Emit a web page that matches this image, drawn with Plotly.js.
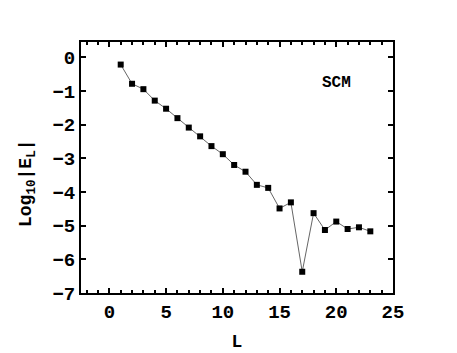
<!DOCTYPE html>
<html>
<head>
<meta charset="utf-8">
<script src="https://cdn.plot.ly/plotly-3.0.1.min.js"></script>
<style>
  html, body { margin: 0; padding: 0; background: #fff; }
  #chart { width: 457px; height: 353px; }
</style>
</head>
<body>
<div id="chart"></div>
<script>
// Values
const L = [1, 2, 3, 4, 5, 6, 7, 8, 9, 10, 11, 12, 13, 14, 15, 16, 17, 18, 19, 20, 21, 22, 23];
const logE = [-0.22, -0.79, -0.95, -1.29, -1.53, -1.81, -2.09, -2.35, -2.64, -2.88, -3.20, -3.40,
              -3.79, -3.88, -4.49, -4.31, -6.37, -4.63, -5.13, -4.88, -5.10, -5.05, -5.17];

const font = { family: '"Liberation Mono", "Courier New", monospace', color: '#000' };

function renderChart() {
  const data = [
    {
      type: 'scatter',
      mode: 'lines+markers',
      x: L,
      y: logE,
      line: { color: '#666', width: 1 },
      marker: { symbol: 'square', size: 6, color: '#000' },
      hoverinfo: 'skip',
    },
  ];

  const axisCommon = {
    showline: true,
    linewidth: 2,
    linecolor: '#000',
    mirror: 'allticks',
    ticks: 'inside',
    tickwidth: 2,
    tickcolor: '#000',
    showgrid: false,
    zeroline: false,
    tickfont: Object.assign({ size: 19, weight: 'bold' }, font),
  };

  const layout = {
    width: 457,
    height: 353,
    margin: { l: 81, r: 64, t: 42, b: 60 },
    paper_bgcolor: '#fff',
    plot_bgcolor: '#fff',
    showlegend: false,
    font: font,
    xaxis: Object.assign({}, axisCommon, {
      range: [-2.5, 25],
      tickvals: [0, 5, 10, 15, 20, 25],
      ticklen: 5,
      minor: { dtick: 1, tick0: 0, ticks: 'inside', ticklen: 3, tickwidth: 2, tickcolor: '#000' },
      title: { text: 'L', font: Object.assign({ size: 18, weight: 'bold' }, font), standoff: 12 },
    }),
    yaxis: Object.assign({}, axisCommon, {
      range: [-7, 0.45],
      tickvals: [0, -1, -2, -3, -4, -5, -6, -7],
      ticklen: 5,
    }),
    annotations: [
      {
        x: 20, y: -0.77, xref: 'x', yref: 'y',
        text: 'SCM', showarrow: false,
        font: Object.assign({ size: 16, weight: 'bold' }, font),
      },
      {
        // y axis title, placed a little below centre like the reference
        x: 27, y: 170, xref: 'paper', yref: 'paper',
        xanchor: 'center', yanchor: 'middle',
        text: 'Log<sub>10</sub>|E<sub>L</sub>|', showarrow: false, textangle: -90,
        font: Object.assign({ size: 18, weight: 'bold' }, font),
      },
    ],
  };

  // convert the pixel position of the y title into paper coordinates
  const plotW = 457 - 81 - 64, plotH = 353 - 42 - 60;
  const yt = layout.annotations[1];
  yt.x = (27 - 81) / plotW;
  yt.y = (353 - 60 - 183) / plotH;

  Plotly.newPlot('chart', data, layout, { displayModeBar: false, staticPlot: true });
}

renderChart();
</script>
</body>
</html>
